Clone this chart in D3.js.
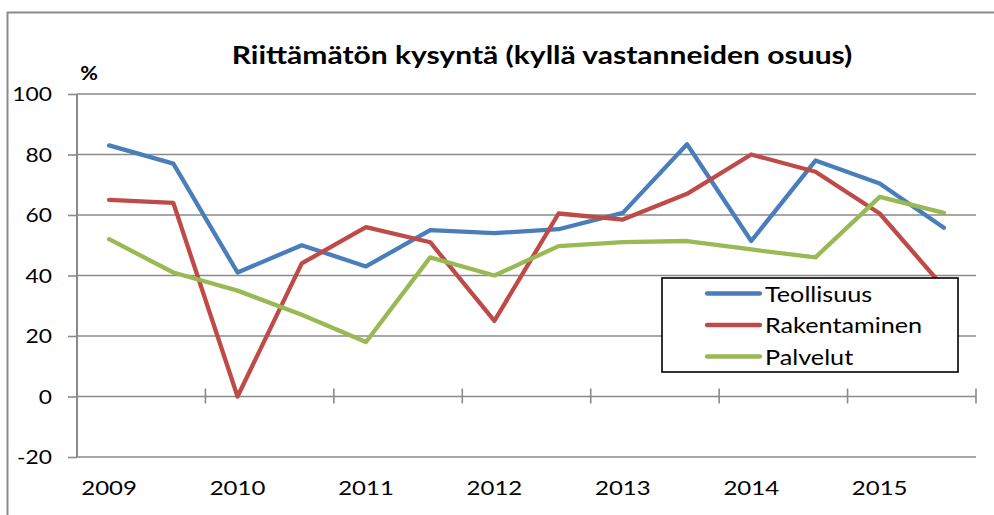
<!DOCTYPE html>
<html><head><meta charset="utf-8">
<script src="https://cdn.jsdelivr.net/npm/d3@7"></script>
<style>body{margin:0;background:#fff}svg{display:block}text{font-family:Lato,"Open Sans",sans-serif;fill:#000}</style>
</head><body><svg id="c" width="994" height="515"></svg>
<script>
const categories = ["2009a","2009b","2010a","2010b","2011a","2011b","2012a","2012b","2013a","2013b","2014a","2014b","2015a","2015b"];
const tickLabels = ["2009","2010","2011","2012","2013","2014","2015"];
const seriesNames = ["Teollisuus","Rakentaminen","Palvelut"];
const teollisuus = [83, 77, 41, 50, 43, 55, 54, 55.3, 60.7, 83.4, 51.4, 78, 70.4, 55.8];
const rakentaminen = [65, 64, 0, 44, 56, 51, 25, 60.5, 58.5, 67, 80, 74.3, 60.5, 36];
const palvelut = [52, 41, 35, 27, 18, 46, 40, 49.7, 51, 51.4, 48.6, 46, 66, 60.7];
const yTicks = [-20, 0, 20, 40, 60, 80, 100];
const colors = ["#4A7EBB", "#BE4B48", "#98B954"];
const title = "Riittämätön kysyntä (kyllä vastanneiden osuus)";

const svg = d3.select("#c");
const L = 77, R = 976, T = 94, B = 457;
const SX = 1.2;
const grid = "#8a8a8a";

const x = d3.scaleBand().domain(categories).range([L, R]).padding(0);
const y = d3.scaleLinear().domain([-20, 100]).range([B, T]);

function txt(g, s, px, py, size, anchor, weight) {
  const t = g.append("text").attr("transform", `translate(${px},${py}) scale(${SX},1)`)
    .attr("text-anchor", anchor).style("font-size", size + "px").text(s);
  if (weight) t.style("font-weight", weight);
  return t;
}

// outer frame
svg.append("path").attr("d", "M7.5,515 V12.5 H994").attr("fill", "none").attr("stroke", grid).attr("stroke-width", 2);

// gridlines
svg.append("g").selectAll("line").data(yTicks.filter(d => d !== 0)).join("line")
  .attr("x1", L).attr("x2", R).attr("y1", d => y(d)).attr("y2", d => y(d))
  .attr("stroke", grid).attr("stroke-width", 1.6);

// y axis
const yAxis = d3.axisLeft(y).tickValues(yTicks).tickSize(9).tickFormat("");
const ya = svg.append("g").attr("transform", `translate(${L},0)`).call(yAxis);
ya.select(".domain").attr("stroke", grid).attr("stroke-width", 2).attr("d", `M0,${T}V${B}`);
ya.selectAll(".tick line").attr("stroke", grid).attr("stroke-width", 1.6);
const yl = svg.append("g");
yTicks.forEach(v => txt(yl, v, 52, y(v) + 7, 19, "end"));

// x axis at 0
const bounds = d3.range(0, categories.length + 1, 2).map(i => L + i * x.bandwidth());
const xa = svg.append("g");
xa.append("line").attr("x1", L).attr("x2", R).attr("y1", y(0)).attr("y2", y(0)).attr("stroke", grid).attr("stroke-width", 1.6);
xa.selectAll("line.t").data(bounds).join("line").attr("class", "t")
  .attr("x1", d => d).attr("x2", d => d).attr("y1", y(0) - 8).attr("y2", y(0) + 7)
  .attr("stroke", grid).attr("stroke-width", 1.6);
tickLabels.forEach((lab, i) => txt(xa, lab, x(categories[i * 2]) + x.bandwidth() / 2, 495, 20, "middle"));

// lines
const data = [teollisuus, rakentaminen, palvelut];
const line = d3.line().x((d, i) => x(categories[i]) + x.bandwidth() / 2).y(d => y(d));
svg.append("g").selectAll("path").data(data).join("path")
  .attr("d", line).attr("fill", "none").attr("stroke", (d, i) => colors[i])
  .attr("stroke-width", 4.3).attr("stroke-linejoin", "round").attr("stroke-linecap", "round");

// title and unit
txt(svg, title, 542, 64, 25, "middle", "bold");
txt(svg, "%", 89, 80, 18, "middle", "bold");

// legend
const lg = svg.append("g");
lg.append("rect").attr("x", 662).attr("y", 278).attr("width", 296).attr("height", 94)
  .attr("fill", "#fff").attr("stroke", "#000").attr("stroke-width", 1.6);
seriesNames.forEach((n, i) => {
  const cy = 293.5 + i * 31.5;
  lg.append("line").attr("x1", 707).attr("x2", 760).attr("y1", cy).attr("y2", cy)
    .attr("stroke", colors[i]).attr("stroke-width", 4.3).attr("stroke-linecap", "round");
  txt(lg, n, 765, cy + 8, 21, "start");
});
</script></body></html>
